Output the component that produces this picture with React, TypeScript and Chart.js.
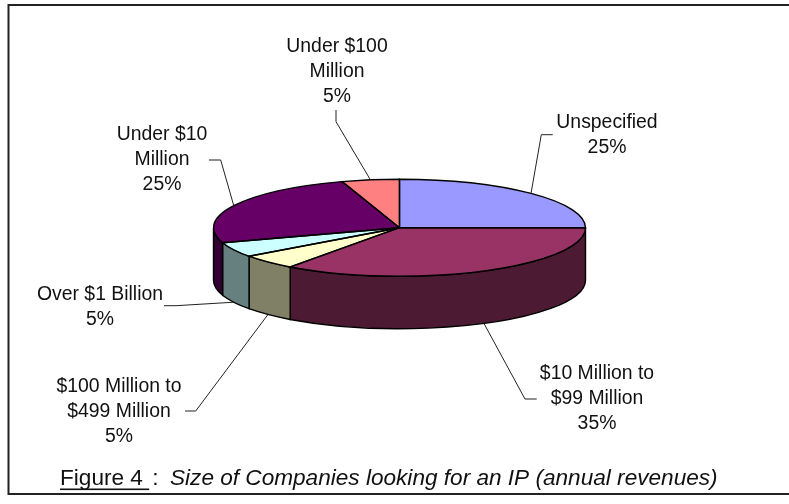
import React, { useEffect, useRef } from "react";
import { Chart, registerables } from "chart.js";

Chart.register(...registerables);

const categories = [
  "Unspecified",
  "$10 Million to $99 Million",
  "$100 Million to $499 Million",
  "Over $1 Billion",
  "Under $10 Million",
  "Under $100 Million",
];
const shares = [25, 35, 5, 5, 25, 5];
const sliceColors = ["#9999FF", "#993366", "#FFFFCC", "#CCFFFF", "#660066", "#FF8080"];
const wallColors = ["#4D4D80", "#4D1A33", "#808066", "#668080", "#330033", "#804040"];
const labelLines = [
  ["Unspecified", "25%"],
  ["$10 Million to", "$99 Million", "35%"],
  ["$100 Million to", "$499 Million", "5%"],
  ["Over $1 Billion", "5%"],
  ["Under $10", "Million", "25%"],
  ["Under $100", "Million", "5%"],
];

// Layout only
const W = 789;
const H = 504;
const CX = 399.5;
const CY = 227.7;
const RX = 186;
const RY = 48.5;
const DEPTH = 52.5;
const FONT = '19.4px "Liberation Sans", Arial, sans-serif';
const CAPTION_FONT = '22.6px "Liberation Sans", Arial, sans-serif';
const LINE_H = 25;
const labelPos = [
  { x: 607, y: 123 },
  { x: 597, y: 374 },
  { x: 119, y: 387 },
  { x: 100, y: 295 },
  { x: 162, y: 135 },
  { x: 337, y: 46.5 },
];
const elbows = [
  [[552.7, 134.7], [541.3, 134.7]],
  [[536.7, 399], [525, 399]],
  [[185, 411], [195.7, 411]],
  [[164, 305.7], [176, 305.7]],
  [[209, 160], [220.7, 160]],
  [[336, 110], [336, 121.7]],
];

const pie3d = {
  id: "pie3d",
  beforeDatasetsDraw(chart: any) {
    const ctx = chart.ctx;
    const meta = chart.getDatasetMeta(0);
    const k = RY / RX;
    // side wall, only the front half of the disc shows
    meta.data.forEach((arc: any, i: number) => {
      const a = Math.max(arc.startAngle, 0);
      const b = Math.min(arc.endAngle, Math.PI);
      if (b <= a) return;
      ctx.save();
      ctx.beginPath();
      ctx.ellipse(arc.x, arc.y, arc.outerRadius, arc.outerRadius * k, 0, a, b);
      ctx.ellipse(arc.x, arc.y + DEPTH, arc.outerRadius, arc.outerRadius * k, 0, b, a, true);
      ctx.closePath();
      ctx.fillStyle = wallColors[i];
      ctx.fill();
      ctx.strokeStyle = "#000";
      ctx.lineWidth = 1.4;
      ctx.stroke();
      ctx.restore();
    });
    ctx.save();
    ctx.translate(CX, CY);
    ctx.scale(1, k);
    ctx.translate(-CX, -CY);
  },
  afterDatasetsDraw(chart: any) {
    const ctx = chart.ctx;
    ctx.restore();
    const meta = chart.getDatasetMeta(0);
    const k = RY / RX;
    // slice outlines with an even pen width
    meta.data.forEach((arc: any) => {
      ctx.save();
      ctx.beginPath();
      ctx.moveTo(arc.x, arc.y);
      ctx.ellipse(arc.x, arc.y, arc.outerRadius, arc.outerRadius * k, 0, arc.startAngle, arc.endAngle);
      ctx.closePath();
      ctx.strokeStyle = "#000";
      ctx.lineWidth = 1.4;
      ctx.stroke();
      ctx.restore();
    });
  },
  afterDraw(chart: any) {
    const ctx = chart.ctx;
    const meta = chart.getDatasetMeta(0);
    const k = RY / RX;
    ctx.save();
    // frame
    ctx.strokeStyle = "#222";
    ctx.lineWidth = 2;
    ctx.beginPath();
    ctx.moveTo(W, 5);
    ctx.lineTo(8.5, 5);
    ctx.lineTo(8.5, 494);
    ctx.lineTo(W, 494);
    ctx.stroke();
    // leader lines, ending on the slice's mid angle
    meta.data.forEach((arc: any, i: number) => {
      const mid = (arc.startAngle + arc.endAngle) / 2;
      const sin = Math.sin(mid);
      const ex = arc.x + arc.outerRadius * Math.cos(mid);
      const ey = arc.y + arc.outerRadius * k * sin + (sin > 0 ? DEPTH : 0);
      ctx.strokeStyle = "#222";
      ctx.lineWidth = 1;
      ctx.beginPath();
      ctx.moveTo(elbows[i][0][0], elbows[i][0][1]);
      ctx.lineTo(elbows[i][1][0], elbows[i][1][1]);
      ctx.lineTo(ex, ey);
      ctx.stroke();
    });
    // labels
    ctx.fillStyle = "#111";
    ctx.font = FONT;
    ctx.textAlign = "center";
    ctx.textBaseline = "middle";
    labelLines.forEach((lines, i) => {
      lines.forEach((t, j) => ctx.fillText(t, labelPos[i].x, labelPos[i].y + j * LINE_H));
    });
    // caption
    ctx.font = CAPTION_FONT;
    ctx.textAlign = "left";
    ctx.fillText("Figure 4 ", 60, 479);
    const w = ctx.measureText("Figure 4 ").width;
    ctx.fillRect(60, 488.5, w, 1.6);
    ctx.fillText(":", 60 + w + 3, 479);
    ctx.font = "italic " + CAPTION_FONT;
    ctx.fillText("Size of Companies looking for an IP (annual revenues)", 170, 479);
    ctx.restore();
  },
};

export default function App() {
  const ref = useRef<HTMLCanvasElement>(null);
  useEffect(() => {
    const chart = new Chart(ref.current as HTMLCanvasElement, {
      type: "pie",
      data: {
        labels: categories,
        datasets: [{ data: shares, backgroundColor: sliceColors, borderWidth: 0 }],
      },
      options: {
        responsive: false,
        animation: false,
        layout: {
          padding: {
            left: CX - RX,
            right: W - CX - RX,
            top: CY - RX,
            bottom: H - CY - RX,
          },
        },
        plugins: { legend: { display: false }, tooltip: { enabled: false } },
      },
      plugins: [pie3d],
    } as any);
    return () => chart.destroy();
  }, []);
  return (
    <canvas
      ref={ref}
      width={W}
      height={H}
      style={{ position: "absolute", left: 0, top: 0, display: "block" }}
    />
  );
}
